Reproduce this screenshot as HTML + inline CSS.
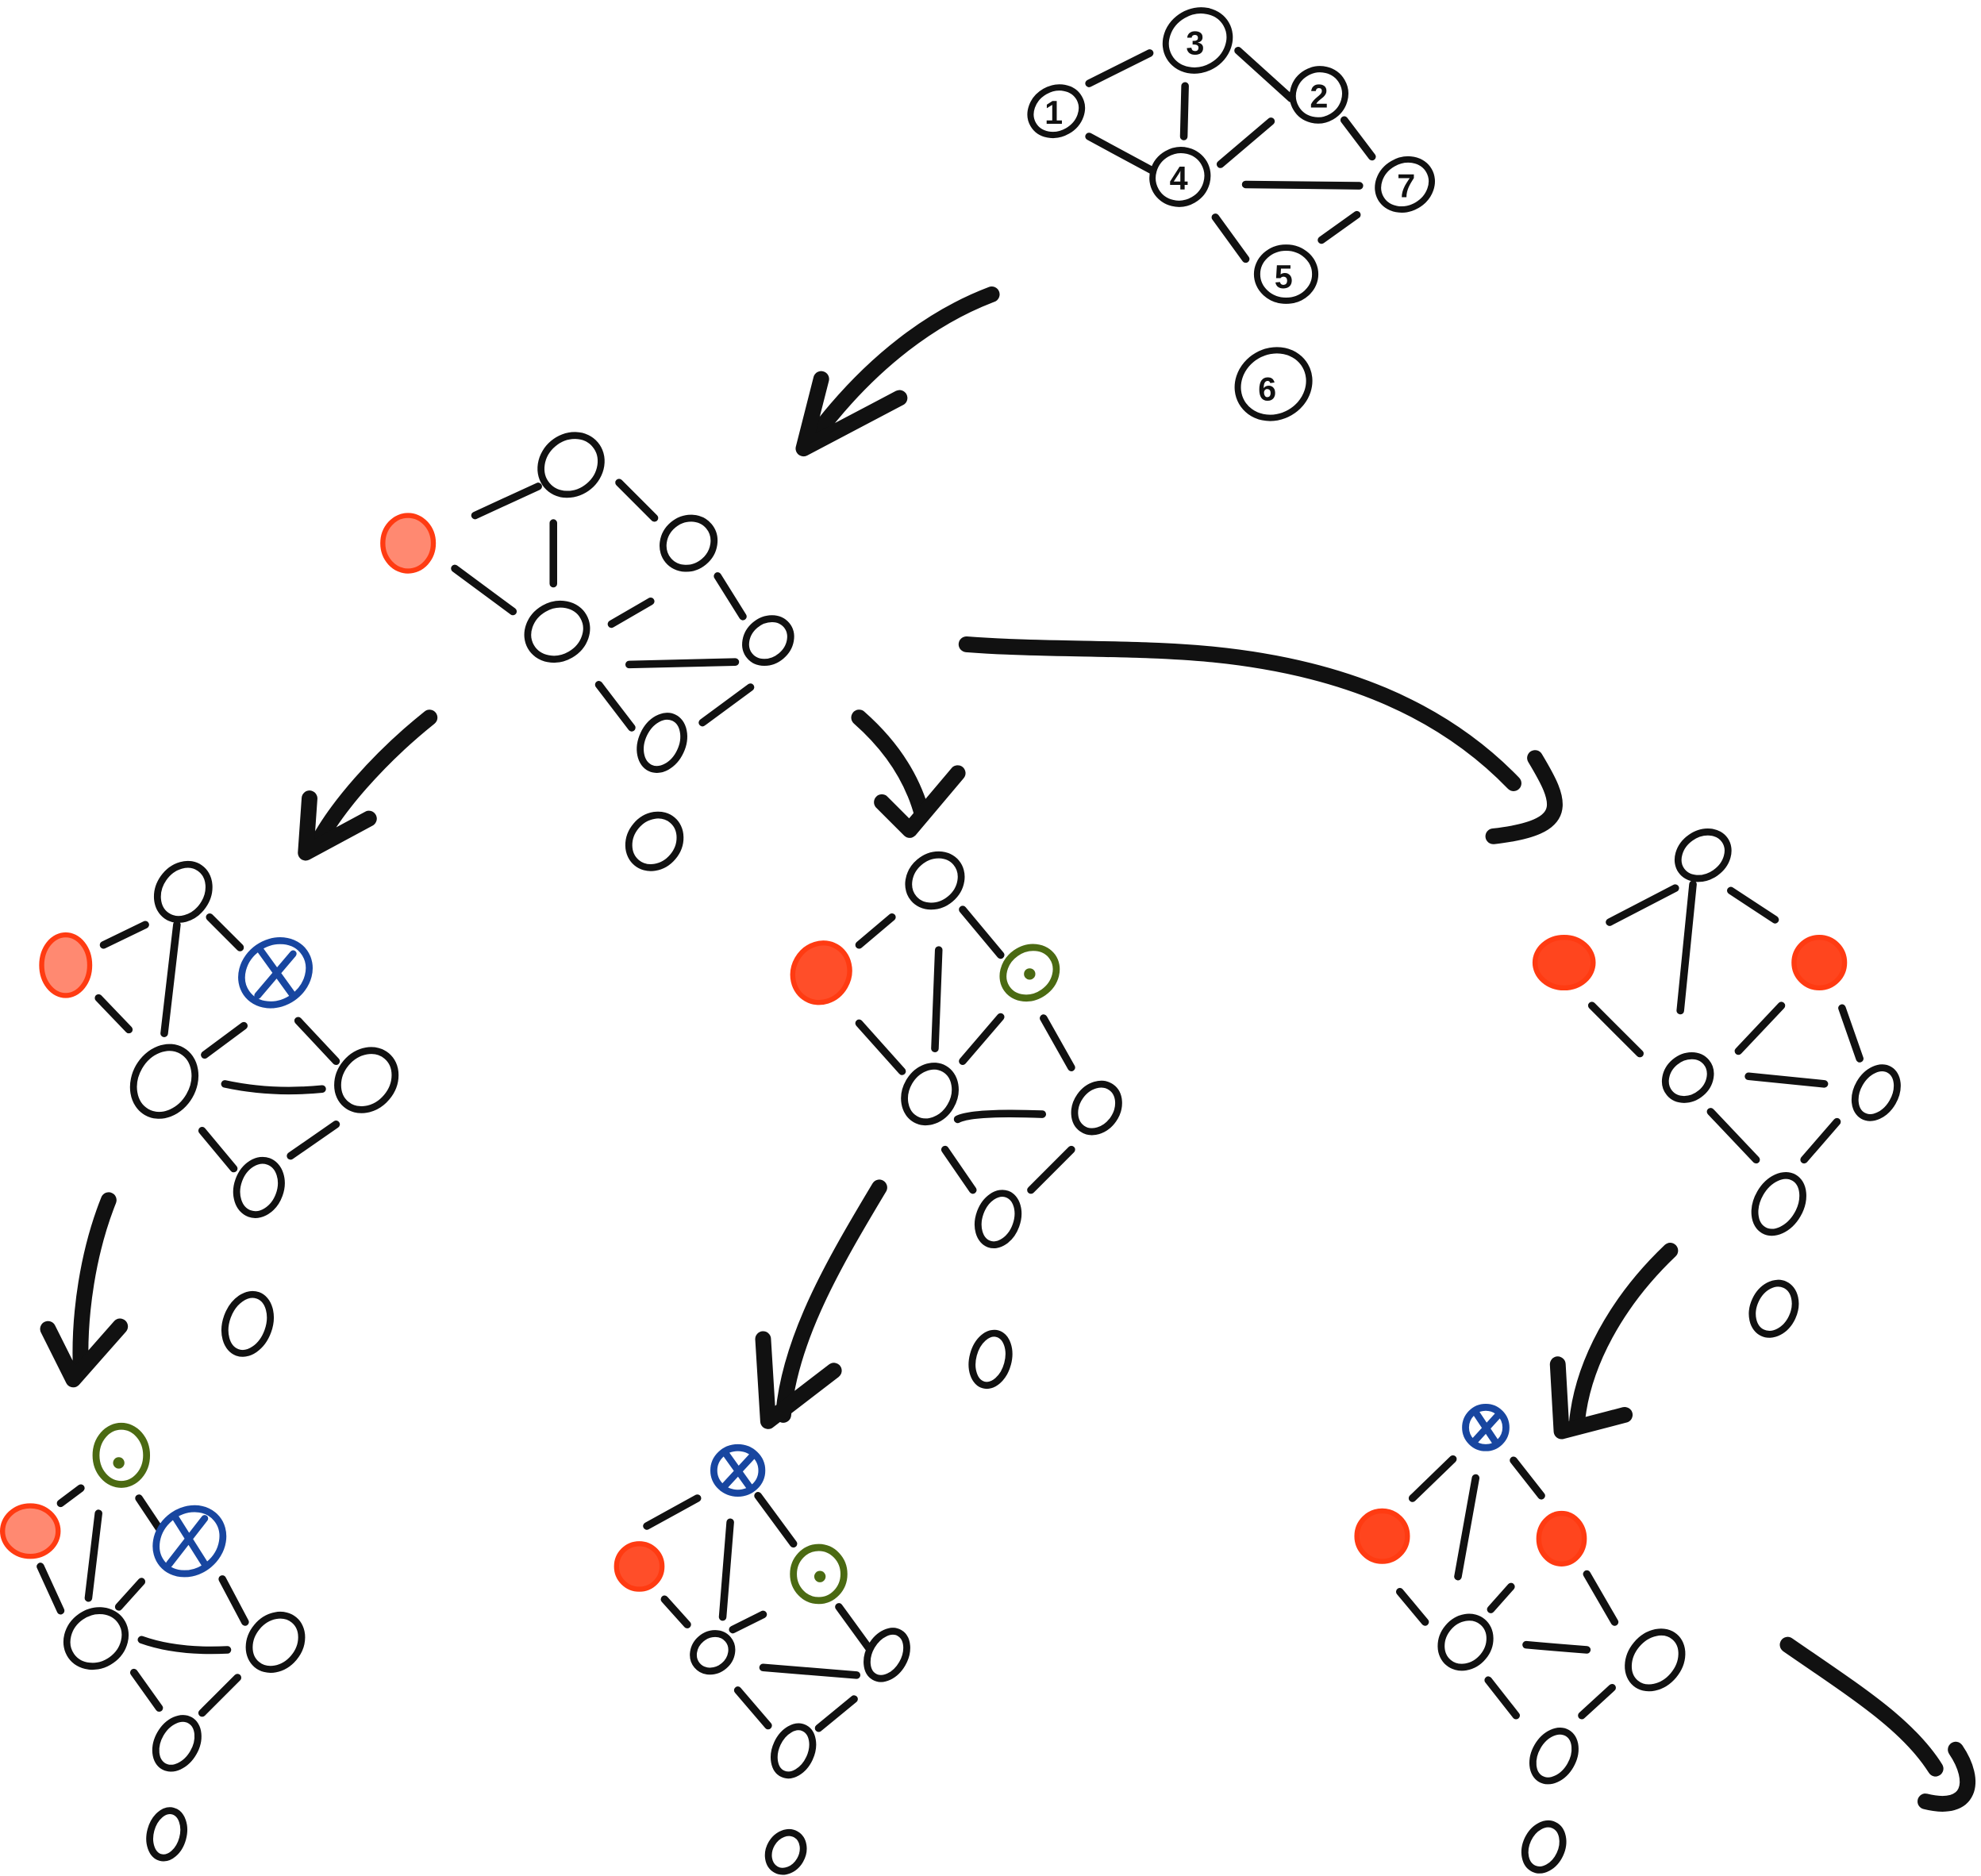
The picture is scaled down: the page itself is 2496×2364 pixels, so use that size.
<!DOCTYPE html>
<html><head><meta charset="utf-8"><style>html,body{margin:0;padding:0;background:#fff}svg{display:block}</style></head>
<body>
<svg width="2496" height="2364" viewBox="0 0 1568 1485" xmlns="http://www.w3.org/2000/svg">
<g fill="none" stroke="#111" stroke-linecap="round" stroke-linejoin="round">
<!-- top graph -->
<g stroke-width="5">
<ellipse cx="948" cy="32" rx="26" ry="23" transform="rotate(-30 948 32)"/>
<ellipse cx="836" cy="88" rx="21" ry="18" transform="rotate(-30 836 88)"/>
<ellipse cx="1044" cy="75" rx="21" ry="20" transform="rotate(-30 1044 75)"/>
<ellipse cx="934" cy="140" rx="22" ry="21" transform="rotate(-30 934 140)"/>
<ellipse cx="1112" cy="146" rx="22" ry="19" transform="rotate(-30 1112 146)"/>
<ellipse cx="1018" cy="217" rx="23" ry="21"/>
<ellipse cx="1008" cy="304" rx="29" ry="26" transform="rotate(-30 1008 304)"/>
</g>
<g font-family="Liberation Sans, sans-serif" font-size="26" font-weight="bold" fill="#111" stroke="none" text-anchor="middle">
<text x="946" y="43">3</text><text x="834" y="98">1</text><text x="1044" y="85">2</text><text x="933" y="150">4</text><text x="1113" y="156">7</text><text x="1016" y="228">5</text><text x="1003" y="317">6</text>
</g>
<g stroke-width="6">
<path d="M862 66L910 42M938 68L937 108M980 40L1022 78M862 108L912 135M966 130L1006 96M986 146L1076 147M1064 95L1086 124M962 172L986 205M1046 190L1074 170"/>
</g>
<!-- arrows -->
<g stroke-width="12.5">
<path d="M785 233C740 250 690 285 645 345"/>
<path d="M650 300L636 355L712 315"/>
<path d="M340 568C300 600 265 640 250 670"/>
<path d="M245 632L242 675L292 648"/>
<path d="M680 568C705 590 722 615 730 645"/>
<path d="M698 635L720 657L758 612"/>
<path d="M765 510C830 515 900 512 960 518C1060 528 1140 560 1198 620"/>
<path d="M1215 600C1236 635 1245 655 1182 662"/>
<path d="M86 950C70 990 62 1040 64 1085"/>
<path d="M38 1052L58 1092L95 1050"/>
<path d="M696 940C660 1000 625 1060 620 1120"/>
<path d="M604 1060L608 1125L660 1085"/>
<path d="M1322 990C1280 1030 1252 1080 1248 1128"/>
<path d="M1233 1080L1236 1133L1286 1120"/>
<path d="M1415 1302C1470 1340 1510 1365 1532 1400"/>
<path d="M1548 1385C1565 1410 1560 1435 1524 1426"/>
</g>
<!-- black nodes -->
<g stroke-width="5.5">
<ellipse cx="452" cy="368" rx="25" ry="22" transform="rotate(-40 452 368)"/>
<ellipse cx="545" cy="430" rx="21" ry="19" transform="rotate(-40 545 430)"/>
<ellipse cx="441" cy="500" rx="24" ry="21" transform="rotate(-30 441 500)"/>
<ellipse cx="608" cy="507" rx="19" ry="16" transform="rotate(-40 608 507)"/>
<ellipse cx="524" cy="588" rx="22" ry="16" transform="rotate(-65 524 588)"/>
<ellipse cx="518" cy="666" rx="22" ry="19" transform="rotate(-50 518 666)"/>

<ellipse cx="145" cy="706" rx="23" ry="19" transform="rotate(-55 145 706)"/>
<ellipse cx="130" cy="856" rx="28" ry="23" transform="rotate(-60 130 856)"/>
<ellipse cx="290" cy="855" rx="25" ry="21" transform="rotate(-50 290 855)"/>
<ellipse cx="205" cy="940" rx="22" ry="17" transform="rotate(-70 205 940)"/>
<ellipse cx="196" cy="1048" rx="24" ry="17" transform="rotate(-70 196 1048)"/>

<ellipse cx="740" cy="697" rx="22" ry="19" transform="rotate(-40 740 697)"/>
<ellipse cx="736" cy="866" rx="23" ry="19" transform="rotate(-60 736 866)"/>
<ellipse cx="868" cy="877" rx="20" ry="16" transform="rotate(-55 868 877)"/>
<ellipse cx="790" cy="965" rx="21" ry="15" transform="rotate(-70 790 965)"/>
<ellipse cx="784" cy="1076" rx="21" ry="14" transform="rotate(-75 784 1076)"/>

<ellipse cx="1348" cy="677" rx="21" ry="17" transform="rotate(-35 1348 677)"/>
<ellipse cx="1336" cy="853" rx="19" ry="16" transform="rotate(-40 1336 853)"/>
<ellipse cx="1485" cy="865" rx="21" ry="15" transform="rotate(-60 1485 865)"/>
<ellipse cx="1408" cy="953" rx="24" ry="17" transform="rotate(-60 1408 953)"/>
<ellipse cx="1404" cy="1036" rx="21" ry="16" transform="rotate(-65 1404 1036)"/>

<ellipse cx="76" cy="1297" rx="24" ry="21" transform="rotate(-35 76 1297)"/>
<ellipse cx="218" cy="1300" rx="23" ry="19" transform="rotate(-50 218 1300)"/>
<ellipse cx="140" cy="1380" rx="21" ry="15" transform="rotate(-60 140 1380)"/>
<ellipse cx="132" cy="1452" rx="19" ry="13" transform="rotate(-75 132 1452)"/>

<ellipse cx="564" cy="1308" rx="16" ry="14" transform="rotate(-40 564 1308)"/>
<ellipse cx="702" cy="1310" rx="20" ry="14" transform="rotate(-60 702 1310)"/>
<ellipse cx="628" cy="1386" rx="20" ry="14" transform="rotate(-65 628 1386)"/>
<ellipse cx="622" cy="1466" rx="16" ry="13" transform="rotate(-60 622 1466)"/>

<ellipse cx="1160" cy="1300" rx="21" ry="18" transform="rotate(-50 1160 1300)"/>
<ellipse cx="1310" cy="1314" rx="24" ry="19" transform="rotate(-50 1310 1314)"/>
<ellipse cx="1230" cy="1390" rx="21" ry="15" transform="rotate(-60 1230 1390)"/>
<ellipse cx="1222" cy="1462" rx="19" ry="14" transform="rotate(-65 1222 1462)"/>
</g>
<!-- edges -->
<g stroke-width="6">
<path d="M376 408L426 385M438 414L438 462M490 382L518 410M360 450L406 484M484 494L515 476M568 456L588 488M498 526L582 524M474 542L500 576M556 572L594 544"/>
<path d="M82 748L115 732M140 732L130 818M166 726L190 750M78 790L102 815M162 835L193 812M236 808L266 840M178 858Q215 866 255 862M160 895L185 925M230 915L266 890"/>
<path d="M680 748L706 726M743 752L740 830M762 720L792 756M680 810L714 848M762 840L792 805M826 806L848 845M758 886Q770 880 825 882M748 910L770 942M816 942L848 910"/>
<path d="M1274 730L1326 703M1340 700L1330 800M1370 705L1405 728M1260 796L1298 834M1376 832L1410 796M1458 798L1472 838M1384 852L1444 858M1354 880L1390 918M1428 918L1454 888"/>
<path d="M48 1190L64 1178M78 1198L70 1265M110 1186L126 1210M32 1240L48 1275M94 1272L112 1252M176 1250L194 1284M112 1298Q140 1308 180 1306M106 1324L126 1352M160 1356L188 1328"/>
<path d="M512 1208L552 1186M578 1205L572 1280M600 1184L628 1222M526 1266L544 1286M580 1290L604 1278M664 1272L688 1305M604 1320L678 1326M584 1338L608 1366M648 1368L676 1345"/>
<path d="M1118 1186L1150 1155M1168 1170L1154 1248M1198 1156L1220 1184M1108 1260L1128 1284M1180 1274L1196 1256M1256 1246L1278 1284M1208 1302Q1230 1304 1256 1306M1178 1330L1200 1358M1252 1358L1276 1336"/>
</g>
<!-- red nodes -->
<g stroke="#ff3b12" stroke-width="4" fill="#ff3b12">
<ellipse cx="323" cy="430" rx="20" ry="22" fill-opacity="0.6"/>
<ellipse cx="52" cy="764" rx="19" ry="24" fill-opacity="0.6"/>
<ellipse cx="650" cy="770" rx="22" ry="24" transform="rotate(30 650 770)" fill-opacity="0.9"/>
<ellipse cx="1238" cy="762" rx="23" ry="20" fill-opacity="0.95"/>
<ellipse cx="1440" cy="762" rx="20" ry="20" fill-opacity="0.95"/>
<ellipse cx="24" cy="1212" rx="22" ry="20" fill-opacity="0.6"/>
<ellipse cx="506" cy="1240" rx="18" ry="18" fill-opacity="0.9"/>
<ellipse cx="1094" cy="1216" rx="20" ry="20" fill-opacity="0.95"/>
<ellipse cx="1236" cy="1218" rx="18" ry="20" fill-opacity="0.95"/>
</g>
<!-- blue X nodes -->
<g stroke="#1846a0" stroke-width="5.5">
<ellipse cx="218" cy="770" rx="28" ry="24" transform="rotate(-35 218 770)"/>
<path d="M206 752L232 788M232 755L204 788"/>
<ellipse cx="150" cy="1220" rx="28" ry="24" transform="rotate(-40 150 1220)"/>
<path d="M138 1200L162 1238M162 1202L134 1238"/>
<ellipse cx="584" cy="1164" rx="19" ry="18"/>
<path d="M574 1150L594 1178M596 1152L572 1178"/>
<ellipse cx="1176" cy="1130" rx="16" ry="16"/>
<path d="M1168 1118L1184 1142M1186 1120L1166 1142"/>
</g>
<!-- green dot nodes -->
<g stroke="#4b6a12" stroke-width="5.5">
<ellipse cx="815" cy="770" rx="22" ry="19" transform="rotate(-35 815 770)"/>
<ellipse cx="96" cy="1152" rx="20" ry="23"/>
<ellipse cx="648" cy="1246" rx="20" ry="21"/>
</g>
<g fill="#4b6a12" stroke="none">
<circle cx="815" cy="771" r="4.5"/><circle cx="94" cy="1158" r="4.5"/><circle cx="649" cy="1248" r="4.5"/>
</g>
</g>
</svg>
</body></html>
